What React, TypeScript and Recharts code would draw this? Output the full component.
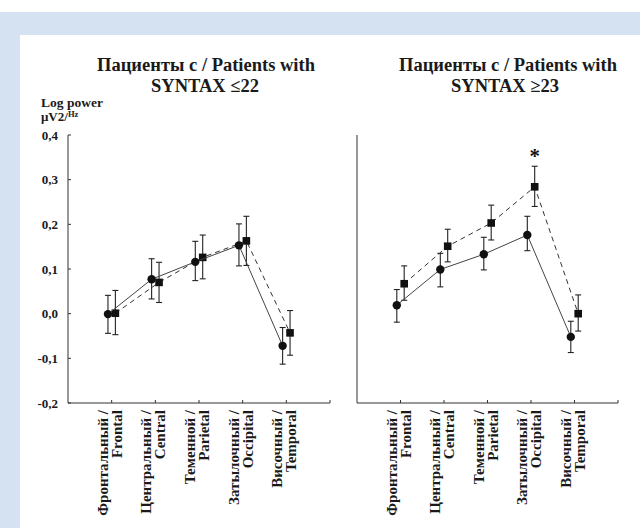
import React from 'react';
import { ComposedChart, Scatter, XAxis, YAxis, ErrorBar } from 'recharts';

// brain regions, two-line labels (ru / en)
const regions = [
  ['Фронтальный /', 'Frontal'],
  ['Центральный /', 'Central'],
  ['Теменной /', 'Parietal'],
  ['Затылочный /', 'Occipital'],
  ['Височный /', 'Temporal'],
];
const yTicks = [-0.2, -0.1, 0, 0.1, 0.2, 0.3, 0.4];
const xTicks = [1, 2, 3, 4, 5, 6];

// SYNTAX <=22 : circles (solid) and squares (dashed)
const lowCircleMean = [-0.001, 0.077, 0.116, 0.153, -0.072];
const lowCircleHi = [0.041, 0.123, 0.162, 0.201, -0.031];
const lowCircleLo = [-0.044, 0.033, 0.074, 0.107, -0.113];
const lowSquareMean = [0.001, 0.07, 0.126, 0.163, -0.043];
const lowSquareHi = [0.052, 0.115, 0.176, 0.218, 0.007];
const lowSquareLo = [-0.047, 0.025, 0.078, 0.108, -0.093];

// SYNTAX >=23
const highCircleMean = [0.019, 0.099, 0.133, 0.176, -0.052];
const highCircleHi = [0.054, 0.135, 0.171, 0.218, -0.017];
const highCircleLo = [-0.019, 0.06, 0.098, 0.141, -0.087];
const highSquareMean = [0.067, 0.151, 0.203, 0.284, 0.0];
const highSquareHi = [0.107, 0.189, 0.243, 0.33, 0.042];
const highSquareLo = [0.03, 0.116, 0.165, 0.24, -0.039];

// significance mark (region number, value)
const highStars = [{ region: 4, value: 0.357 }];

const SHIFT = 0.085;

const makePoints = (mean: number[], lo: number[], hi: number[], shift: number) =>
  mean.map((m, i) => ({ x: i + 1 + shift, y: m, err: [m - lo[i], hi[i] - m] }));

const serif = 'Liberation Serif, Times New Roman, serif';
const ink = '#1a1a1a';

const circleShape = (p: any) => <circle cx={p.cx} cy={p.cy} r={4.2} fill="#111" />;
const squareShape = (p: any) => (
  <rect x={p.cx - 3.8} y={p.cy - 3.8} width={7.6} height={7.6} fill="#111" />
);
const starShape = (p: any) => (
  <text x={p.cx} y={p.cy + 9} textAnchor="middle" fontSize={21} fontWeight="bold" fontFamily={serif} fill="#111">
    *
  </text>
);

const RegionTick = (props: any) => {
  const { x, y, payload } = props;
  const lines = regions[payload.value - 1];
  if (!lines) return null;
  const style = { fontFamily: serif, fontWeight: 'bold' as const, fontSize: 15, fill: ink };
  return (
    <g>
      <text transform={`translate(${x - 4},${y}) rotate(-90)`} textAnchor="end" {...style}>
        {lines[0]}
      </text>
      <text transform={`translate(${x + 10},${y}) rotate(-90)`} textAnchor="end" {...style}>
        {lines[1]}
      </text>
    </g>
  );
};

const fmt = (v: number) => v.toFixed(1).replace('.', ',');

interface PanelProps {
  left: number;
  width: number;
  yWidth: number;
  marginLeft: number;
  marginRight: number;
  showYLabels: boolean;
  circles: any[];
  squares: any[];
  stars?: any[];
}

const Panel = ({ left, width, yWidth, marginLeft, marginRight, showYLabels, circles, squares, stars }: PanelProps) => (
  <ComposedChart
    width={width}
    height={528}
    margin={{ top: 135, right: marginRight, bottom: 25, left: marginLeft }}
    style={{ position: 'absolute', left, top: 0 }}
  >
    <XAxis
      type="number"
      dataKey="x"
      domain={[0, 6]}
      ticks={xTicks}
      interval={0}
      height={100}
      stroke="#333"
      tickSize={-3}
      tickMargin={10}
      tick={<RegionTick />}
    />
    <YAxis
      type="number"
      dataKey="y"
      domain={[-0.2, 0.4]}
      ticks={yTicks}
      interval={0}
      width={yWidth}
      stroke="#333"
      tickSize={-3}
      tickMargin={13}
      tickFormatter={fmt}
      tick={showYLabels ? { fontFamily: serif, fontWeight: 'bold', fontSize: 13, fill: ink } : false}
    />
    <Scatter
      data={squares}
      dataKey="y"
      line={{ stroke: '#333', strokeWidth: 1, strokeDasharray: '5 4' }}
      lineType="joint"
      shape={squareShape}
      isAnimationActive={false}
    >
      <ErrorBar dataKey="err" direction="y" width={3} stroke="#222" strokeWidth={1.1} />
    </Scatter>
    <Scatter
      data={circles}
      dataKey="y"
      line={{ stroke: '#444', strokeWidth: 1 }}
      lineType="joint"
      shape={circleShape}
      isAnimationActive={false}
    >
      <ErrorBar dataKey="err" direction="y" width={3} stroke="#222" strokeWidth={1.1} />
    </Scatter>
    {stars && <Scatter data={stars} dataKey="y" shape={starShape} isAnimationActive={false} />}
  </ComposedChart>
);

export default function App() {
  const lowCircles = makePoints(lowCircleMean, lowCircleLo, lowCircleHi, -SHIFT);
  const lowSquares = makePoints(lowSquareMean, lowSquareLo, lowSquareHi, SHIFT);
  const highCircles = makePoints(highCircleMean, highCircleLo, highCircleHi, -SHIFT);
  const highSquares = makePoints(highSquareMean, highSquareLo, highSquareHi, SHIFT);
  const stars = highStars.map((s) => ({ x: s.region + SHIFT, y: s.value }));

  const titleStyle = { fontFamily: serif, fontWeight: 'bold' as const, fontSize: 18.5, fill: ink };

  return (
    <div style={{ position: 'absolute', left: 0, top: 0, width: 640, height: 528, background: '#d5e2f1', overflow: 'hidden' }}>
      <div style={{ position: 'absolute', left: 0, top: 0, width: 640, height: 12, background: '#fff' }} />
      <div style={{ position: 'absolute', left: 20, top: 35, width: 620, height: 493, background: '#fff' }} />
      <Panel
        left={0}
        width={340}
        yWidth={60}
        marginLeft={8}
        marginRight={10}
        showYLabels
        circles={lowCircles}
        squares={lowSquares}
      />
      <Panel
        left={340}
        width={290}
        yWidth={10}
        marginLeft={7}
        marginRight={12}
        showYLabels={false}
        circles={highCircles}
        squares={highSquares}
        stars={stars}
      />
      <svg width={640} height={528} style={{ position: 'absolute', left: 0, top: 0, pointerEvents: 'none' }}>
        <text x={206} y={71} textAnchor="middle" {...titleStyle}>Пациенты с / Patients with</text>
        <text x={205} y={92} textAnchor="middle" {...titleStyle}>SYNTAX ≤22</text>
        <text x={508} y={71} textAnchor="middle" {...titleStyle}>Пациенты с / Patients with</text>
        <text x={505} y={92} textAnchor="middle" {...titleStyle}>SYNTAX ≥23</text>
        <text x={41} y={107} fontFamily={serif} fontWeight="bold" fontSize={13.5} fill={ink}>Log power</text>
        <text x={41} y={121} fontFamily={serif} fontWeight="bold" fontSize={13} fill={ink}>
          μV2/<tspan fontSize={8.5} dy={-4}>Hz</tspan>
        </text>
      </svg>
    </div>
  );
}
